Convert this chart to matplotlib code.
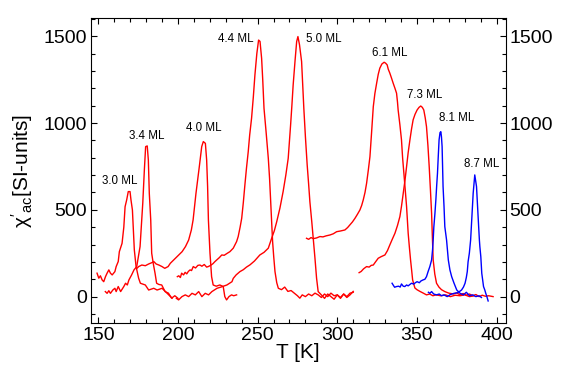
import matplotlib
matplotlib.use("Agg")
import matplotlib.pyplot as plt
from matplotlib.ticker import MultipleLocator

plt.rcParams['font.family'] = ['Liberation Sans', 'DejaVu Sans']
plt.rcParams['mathtext.fontset'] = 'custom'
plt.rcParams['mathtext.rm'] = 'Liberation Sans'
plt.rcParams['mathtext.it'] = 'Liberation Sans'

# curves: temperature (K) and chi'_ac (SI units)
t_30 = [149.2, 150.3, 151.3, 152.4, 153.4, 154.5, 155.5, 156.6, 157.6, 158.7, 160.4, 161.2,
        162.5, 163.2, 164.9, 166.0, 166.8, 167.8, 168.8, 169.9, 170.5, 171.4, 172.0, 172.6,
        173.7, 175.3, 176.4, 179.5, 181.6, 184.8, 186.9, 190.0, 192.1, 194.2, 196.3]
chi_30 = [135, 106, 120, 96, 86, 115, 135, 154, 135, 125, 144, 173,
          202, 259, 307, 400, 518, 557, 605, 605, 557, 499, 384, 269,
          173, 106, 77, 67, 38, 48, 38, 48, 29, 10, -9]

t_34 = [154.4, 155.5, 156.6, 157.6, 159.1, 160.4, 161.2, 162.5, 164.0, 166.0, 167.1, 168.2,
        169.2, 170.9, 172.4, 174.1, 176.2, 177.9, 178.9, 179.7, 180.7, 181.4, 182.0, 182.9,
        183.5, 184.5, 185.6, 186.6, 188.0, 189.8, 191.9, 194.0, 196.0, 198.0, 200.0]
chi_34 = [29, 19, 34, 19, 38, 48, 29, 58, 29, 58, 77, 67,
          96, 125, 154, 173, 288, 538, 730, 864, 868, 787, 595, 442,
          250, 190, 135, 77, 70, 67, 29, 20, -9, 5, -10]

t_40 = [174.5, 175.3, 177.3, 179.5, 181.6, 183.7, 184.8, 186.3, 188.0, 190.0, 191.7, 193.8,
        195.2, 196.3, 198.4, 200.5, 202.6, 204.7, 206.7, 208.4, 209.5, 211.3, 213.4, 214.9,
        215.9, 217.2, 218.0, 218.6, 219.1, 220.1, 221.1, 222.1, 224.0, 226.3, 228.4, 229.4,
        230.5, 232.0, 233.6, 235.0, 236.8]
chi_40 = [165, 173, 182, 178, 188, 196, 202, 188, 182, 173, 163, 173,
          192, 202, 221, 240, 259, 288, 326, 384, 442, 595, 749, 864,
          893, 883, 787, 634, 442, 250, 115, 67, 60, 67, 58, 0,
          -19, 0, 10, 5, 10]

t_44 = [199.6, 200.5, 201.5, 202.3, 203.5, 204.5, 205.5, 206.5, 207.6, 208.5, 209.6, 211.0,
        212.5, 213.8, 215.0, 216.5, 218.0, 219.0, 220.5, 222.0, 223.0, 224.3, 226.0, 227.5,
        229.0, 231.0, 232.6, 234.7, 236.8, 237.8, 239.0, 240.0, 241.0, 242.0, 243.0, 244.1,
        245.0, 246.2, 247.3, 248.3, 249.5, 250.6, 251.5, 252.5, 253.2, 254.0, 255.3, 256.7,
        257.5, 258.2, 258.8, 259.4, 260.1, 260.9, 262.0, 263.0, 265.0, 267.0, 269.0, 271.0,
        273.0, 275.0, 276.5, 278.0, 280.0, 282.0, 284.0, 286.0, 288.0, 290.0, 292.0, 294.0,
        296.0, 298.0, 300.0, 302.0, 304.0, 306.0, 308.0, 310.0]
chi_44 = [115, 120, 110, 135, 125, 140, 131, 145, 154, 150, 173, 165,
          180, 182, 175, 185, 170, 173, 180, 190, 200, 211, 225, 240,
          238, 250, 259, 279, 317, 346, 400, 451, 540, 643, 740, 835,
          930, 1028, 1150, 1277, 1400, 1478, 1470, 1373, 1250, 1085, 950, 797,
          680, 547, 430, 317, 230, 144, 80, 48, 40, 55, 30, 35,
          20, 5, -9, 10, 0, 15, 5, 20, 10, -5, 15, 0,
          20, 5, 10, -5, 15, 0, 20, 25]

t_50 = [199.0, 200.4, 202.5, 204.6, 206.7, 208.8, 210.9, 213.0, 215.0, 217.1, 219.2, 221.3,
        224.5, 227.0, 230.7, 233.9, 234.7, 236.5, 238.9, 241.0, 243.0, 245.2, 248.0, 251.4,
        254.0, 256.7, 258.8, 260.5, 262.0, 264.0, 266.0, 267.7, 269.2, 270.7, 271.5, 272.3,
        273.5, 274.5, 275.3, 276.3, 277.6, 278.3, 279.0, 280.0, 281.1, 282.0, 282.8, 284.0,
        284.9, 286.0, 287.0, 288.0, 290.0, 292.0, 294.0, 296.0, 298.0, 300.0, 302.0, 304.0,
        306.0, 308.0, 310.0]
chi_50 = [-10, -19, 0, 10, 0, 19, 10, 29, 0, 19, 10, 29,
          48, 55, 67, 86, 105, 125, 144, 155, 170, 183, 205, 240,
          255, 279, 336, 380, 432, 510, 605, 700, 797, 989, 1100, 1219,
          1360, 1469, 1498, 1450, 1354, 1220, 1085, 920, 759, 650, 547, 430,
          336, 220, 106, 29, 10, -10, 15, 0, -15, 10, -10, 15,
          -5, 10, 30]

t_61 = [280.7, 282.0, 283.5, 285.0, 287.0, 289.1, 291.0, 293.0, 295.4, 297.5, 299.6, 302.0,
        304.8, 306.5, 307.9, 309.5, 311.1, 312.7, 314.2, 315.3, 316.3, 317.4, 318.4, 319.5,
        320.5, 321.5, 322.6, 323.6, 324.7, 325.7, 326.7, 328.0, 329.4, 330.3, 331.3, 332.0,
        333.0, 334.0, 335.1, 336.2, 337.2, 337.8, 338.2, 339.3, 340.3, 341.0, 341.8, 342.7,
        343.5, 344.5, 345.3, 346.0, 346.7, 347.3, 348.7, 350.0, 351.9, 354.0, 356.0, 358.0,
        360.0, 362.0, 365.0, 368.0, 371.0, 374.0, 377.0, 380.0, 383.0, 386.0]
chi_61 = [336, 330, 340, 334, 338, 346, 344, 350, 355, 362, 374, 378,
          384, 398, 413, 430, 451, 475, 499, 525, 557, 600, 653, 730,
          806, 941, 1094, 1170, 1229, 1280, 1316, 1340, 1350, 1345, 1335, 1310,
          1287, 1260, 1229, 1200, 1172, 1120, 1075, 990, 903, 800, 711, 610,
          518, 365, 280, 211, 150, 96, 50, 40, 30, 20, 10, 15,
          5, 10, 5, 10, 0, 8, 5, 10, 0, 5]

t_73 = [313.7, 315.0, 316.5, 318.4, 320.0, 321.3, 322.6, 324.0, 325.7, 327.5, 329.9, 331.5,
        333.0, 334.5, 336.2, 337.8, 339.3, 340.3, 341.4, 342.5, 343.5, 344.5, 345.6, 346.6,
        347.6, 348.8, 350.1, 351.3, 352.4, 353.4, 354.3, 355.2, 356.0, 356.9, 357.7, 358.5,
        359.2, 359.7, 360.2, 361.2, 362.3, 363.8, 365.4, 367.5, 370.0, 373.0, 375.0, 377.0,
        379.0, 381.0, 383.0, 385.0, 387.0, 389.0, 391.0, 393.0, 395.0, 397.8]
chi_73 = [138, 145, 160, 173, 170, 180, 182, 200, 221, 230, 240, 265,
          298, 330, 365, 410, 461, 520, 595, 670, 749, 830, 903, 965,
          1018, 1050, 1075, 1090, 1098, 1090, 1075, 1030, 979, 870, 749, 610,
          480, 340, 211, 130, 77, 55, 40, 29, 20, 15, 22, 10,
          18, 8, 15, 5, 12, 0, 8, 2, 5, 0]

t_81 = [334.4, 335.2, 336.0, 337.2, 338.5, 339.5, 340.3, 341.4, 342.4, 343.5, 344.5, 345.6,
        346.6, 348.0, 349.0, 350.1, 351.5, 352.5, 353.8, 355.0, 356.0, 357.0, 358.1, 359.2,
        359.8, 360.2, 360.6, 361.3, 361.9, 362.4, 362.9, 363.4, 363.9, 364.5, 365.0, 365.4,
        365.8, 366.1, 366.4, 367.0, 367.5, 368.6, 369.7, 370.7, 371.8, 373.3, 375.0, 377.1,
        379.2, 381.0, 383.0, 385.0, 387.0, 389.0, 390.5]
chi_81 = [77, 65, 54, 58, 60, 55, 73, 60, 58, 67, 62, 70,
          77, 72, 80, 86, 80, 90, 96, 100, 115, 144, 173, 211,
          269, 326, 400, 480, 560, 640, 711, 810, 903, 945, 950, 920,
          864, 750, 634, 520, 403, 326, 211, 154, 115, 77, 38, 19,
          10, 25, 5, 10, 0, 5, -5]

t_87 = [357.2, 358.1, 359.2, 360.5, 362.3, 364.0, 365.4, 367.0, 369.0, 371.0, 373.3, 375.4,
        376.8, 378.0, 379.2, 380.2, 381.0, 381.6, 382.1, 382.9, 383.7, 384.5, 385.3, 386.3,
        387.4, 388.4, 389.2, 389.5, 390.1, 390.7, 391.2, 391.8, 392.6, 393.2, 393.9, 394.7]
chi_87 = [25, 19, 29, 15, 10, 15, 5, 10, 0, 12, 19, 22,
          30, 38, 55, 77, 110, 144, 200, 250, 326, 460, 595, 701,
          634, 461, 326, 288, 230, 134, 100, 58, 38, 19, 0, -25]

curves = [(t_30, chi_30, 'red'), (t_34, chi_34, 'red'), (t_40, chi_40, 'red'),
          (t_44, chi_44, 'red'), (t_50, chi_50, 'red'), (t_61, chi_61, 'red'),
          (t_73, chi_73, 'red'), (t_81, chi_81, 'blue'), (t_87, chi_87, 'blue')]

# coverage labels and where they sit (T, chi)
labels = ['3.0 ML', '3.4 ML', '4.0 ML', '4.4 ML', '5.0 ML', '6.1 ML', '7.3 ML', '8.1 ML', '8.7 ML']
label_t = [152.1, 169.3, 205.0, 225.2, 280.1, 321.5, 343.5, 364.0, 379.4]
label_chi = [667, 926, 972, 1484, 1484, 1403, 1162, 1029, 764]

fig = plt.figure(figsize=(5.77, 3.78), dpi=100)
ax = fig.add_axes([0.1577, 0.1455, 0.7184, 0.8069])

for t, chi, col in curves:
    ax.plot(t, chi, color=col, lw=1.0)

for lab, x, y in zip(labels, label_t, label_chi):
    ax.text(x, y, lab, fontsize=8.3, va='center', ha='left')

ax.set_xlim(145.4, 405.6)
ax.set_ylim(-152, 1605)
ax.xaxis.set_major_locator(MultipleLocator(50))
ax.xaxis.set_minor_locator(MultipleLocator(10))
ax.yaxis.set_major_locator(MultipleLocator(500))
ax.yaxis.set_minor_locator(MultipleLocator(100))
ax.tick_params(which='both', direction='in', top=True, right=True, labelright=True,
               labelsize=14, width=0.8)
ax.tick_params(which='major', length=4)
ax.tick_params(which='minor', length=3)
ax.tick_params(axis='x', pad=3)
ax.tick_params(axis='y', which='major', pad=3)

ax.set_xlabel('T [K]', fontsize=15, labelpad=-1)
ax.set_ylabel(r"$\chi'_{\rm ac}$[SI-units]", fontsize=15, labelpad=6)

fig.savefig('out.png', dpi=100)
